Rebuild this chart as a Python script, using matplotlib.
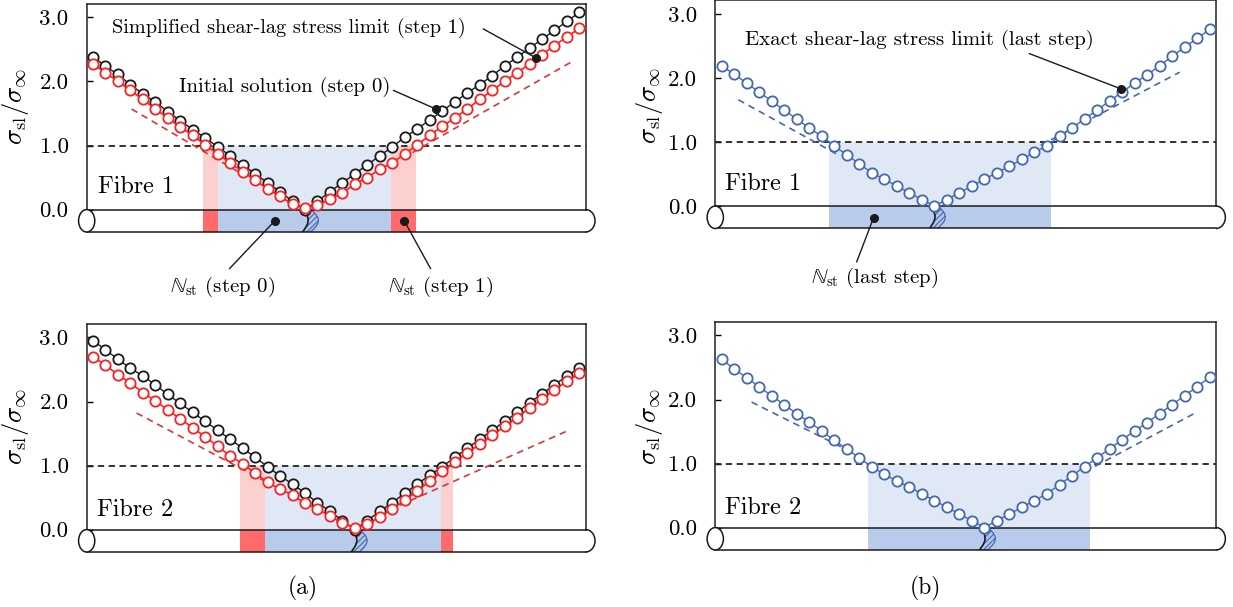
import matplotlib.pyplot as plt
import numpy as np
from matplotlib.patches import Rectangle, Ellipse, Arc, Polygon

plt.rcParams['font.family'] = 'cmr10'
plt.rcParams['mathtext.fontset'] = 'cm'
plt.rcParams['axes.formatter.use_mathtext'] = True
plt.rcParams['hatch.linewidth'] = 0.8

# point positions along the fibre
x = np.arange(40)
ytick_vals = [0, 1, 2, 3]
ytick_labels = ['0.0', '1.0', '2.0', '3.0']

# (a) fibre 1
f1_step0 = [2.39, 2.24, 2.11, 1.95, 1.81, 1.68, 1.53, 1.39, 1.25, 1.12, 0.98, 0.84, 0.70, 0.56,
            0.42, 0.28, 0.13, 0.00, 0.13, 0.28, 0.42, 0.56, 0.70, 0.84, 0.98, 1.13, 1.26, 1.40,
            1.54, 1.68, 1.82, 1.95, 2.09, 2.24, 2.38, 2.52, 2.66, 2.80, 2.94, 3.08]
f1_step1 = [2.27, 2.14, 2.00, 1.86, 1.72, 1.57, 1.43, 1.29, 1.16, 1.01, 0.87, 0.73, 0.59, 0.46,
            0.32, 0.21, 0.08, 0.02, 0.07, 0.16, 0.26, 0.40, 0.50, 0.63, 0.73, 0.87, 1.01, 1.16,
            1.30, 1.43, 1.57, 1.72, 1.86, 2.00, 2.14, 2.27, 2.42, 2.56, 2.70, 2.83]
f1_simpl_left = ([3.1, 12.0], [1.57, 0.55])
f1_simpl_right = ([24.8, 38.4], [0.80, 2.31])

# (a) fibre 2
f2_step0 = [2.95, 2.81, 2.66, 2.52, 2.40, 2.26, 2.11, 1.97, 1.83, 1.69, 1.55, 1.41, 1.27, 1.13,
            0.98, 0.84, 0.71, 0.57, 0.42, 0.29, 0.14, 0.00, 0.14, 0.29, 0.42, 0.57, 0.71, 0.85,
            0.98, 1.13, 1.27, 1.41, 1.55, 1.69, 1.83, 1.98, 2.12, 2.26, 2.40, 2.53]
f2_step1 = [2.70, 2.57, 2.42, 2.29, 2.14, 2.01, 1.87, 1.73, 1.59, 1.45, 1.30, 1.15, 1.03, 0.88,
            0.74, 0.63, 0.54, 0.41, 0.32, 0.21, 0.11, 0.02, 0.08, 0.20, 0.32, 0.46, 0.60, 0.76,
            0.91, 1.06, 1.20, 1.33, 1.47, 1.61, 1.75, 1.90, 2.04, 2.18, 2.32, 2.44]
f2_simpl_left = ([3.5, 13.65], [1.82, 0.77])
f2_simpl_right = ([24.6, 37.9], [0.38, 1.53])

# (b) last step
f1_last = [2.19, 2.06, 1.92, 1.78, 1.64, 1.50, 1.36, 1.22, 1.09, 0.94, 0.80, 0.66, 0.52, 0.42,
           0.31, 0.21, 0.10, 0.00, 0.10, 0.21, 0.31, 0.42, 0.52, 0.62, 0.73, 0.84, 0.94, 1.09,
           1.22, 1.36, 1.50, 1.64, 1.78, 1.92, 2.05, 2.19, 2.34, 2.48, 2.62, 2.76]
f1_exact_left = ([1.34, 9.5], [1.66, 0.78])
f1_exact_right = ([25.5, 36.6], [0.95, 2.09])
f2_last = [2.63, 2.48, 2.34, 2.20, 2.06, 1.92, 1.78, 1.65, 1.51, 1.36, 1.23, 1.09, 0.95, 0.83,
           0.73, 0.63, 0.53, 0.42, 0.32, 0.21, 0.11, 0.00, 0.11, 0.21, 0.32, 0.42, 0.53, 0.67,
           0.81, 0.95, 1.09, 1.23, 1.37, 1.51, 1.64, 1.78, 1.92, 2.06, 2.20, 2.35]
f2_exact_left = ([2.4, 11.2], [1.96, 1.10])
f2_exact_right = ([29.0, 37.75], [0.87, 1.78])

# stress-transfer regions (start, end)
f1_blue_a = [(10.0, 23.9)]
f1_red_a = [(8.8, 10.0), (23.9, 25.9)]
f2_blue_a = [(13.8, 27.9)]
f2_red_a = [(11.8, 13.8), (27.9, 28.9)]
f1_blue_b = [(8.6, 26.3)]
f2_blue_b = [(11.7, 29.4)]
crack_pos = [16.9, 20.8, 16.7, 20.7]

BLACK = '#1a1a1a'
RED = '#ff1f1f'
RED_D = '#d03a3a'
BLUE = '#4468b0'
LBLUE, DBLUE = '#e0e8f5', '#b9cbea'
LRED, DRED = '#fdd0d0', '#ff6a6a'

XLIM = (-0.5, 39.5)
YLIM = (-0.35, 3.21)
CYL = -0.35


def setup(ax):
    ax.set_xlim(*XLIM)
    ax.set_ylim(*YLIM)
    ax.set_xticks([])
    ax.set_yticks(ytick_vals)
    ax.set_yticklabels(ytick_labels)
    ax.tick_params(axis='y', direction='in', length=4, width=1, pad=13, labelsize=16.5)
    ax.spines['bottom'].set_visible(False)
    for s in ['left', 'right']:
        ax.spines[s].set_bounds(0, YLIM[1])
    for s in ['left', 'right', 'top']:
        ax.spines[s].set_linewidth(1.1)
        ax.spines[s].set_color('#222222')
    ax.set_ylabel(r'$\sigma_{\mathrm{sl}}/\sigma_{\infty}$', fontsize=19)
    ax.axhline(1.0, color='#222222', lw=1.3, ls=(0, (3.5, 2.5)), zorder=4)


def fibre(ax, blues, reds, crack):
    ax.add_patch(Rectangle((XLIM[0], CYL), XLIM[1] - XLIM[0], -CYL, fc='white', ec='none',
                           zorder=1, clip_on=False))
    for a, b in blues:
        ax.add_patch(Rectangle((a, 0), b - a, 1, fc=LBLUE, ec='none', zorder=0.5))
        ax.add_patch(Rectangle((a, CYL), b - a, -CYL, fc=DBLUE, ec='none', zorder=1.5))
    for a, b in reds:
        ax.add_patch(Rectangle((a, 0), b - a, 1, fc=LRED, ec='none', zorder=0.5))
        ax.add_patch(Rectangle((a, CYL), b - a, -CYL, fc=DRED, ec='none', zorder=1.5))
    # crack
    t = np.linspace(0, 1, 30)
    yy = CYL * t
    left = crack + 0.4 * np.sin(np.pi * t) - 0.1 * t
    right = crack + 0.6 + 0.6 * np.sin(np.pi * t) - 0.05 * t
    pts = np.column_stack([np.r_[left, right[::-1]], np.r_[yy, yy[::-1]]])
    ax.add_patch(Polygon(pts, closed=True, fc='#b3c6e8', ec=BLUE, lw=0.9, hatch='//////',
                         zorder=2.5))
    ax.plot(left, yy, color=BLACK, lw=1.1, zorder=2.6)
    # outline
    ax.plot(XLIM, [0, 0], color=BLACK, lw=1.1, zorder=3, clip_on=False)
    ax.plot(XLIM, [CYL, CYL], color=BLACK, lw=1.1, zorder=3, clip_on=False)
    ax.add_patch(Ellipse((XLIM[0], CYL / 2), 1.3, -CYL, fc='white', ec=BLACK, lw=1.1,
                         zorder=3, clip_on=False))
    ax.add_patch(Arc((XLIM[1], CYL / 2), 1.5, -CYL, theta1=-90, theta2=90, ec=BLACK, lw=1.1,
                     zorder=3, clip_on=False))


def curve(ax, y, color, lw=1.0):
    ax.plot(x, y, '-o', color=color, lw=lw, ms=7.4, mfc='white', mec=color, mew=1.3, zorder=5)


def dashed(ax, seg, color):
    ax.plot(seg[0], seg[1], color=color, lw=1.2, ls=(0, (4, 3)), zorder=4.5)


def leader(ax, txt_xy, dot_xy):
    ax.plot([txt_xy[0], dot_xy[0]], [txt_xy[1], dot_xy[1]], color=BLACK, lw=1.0, zorder=6,
            clip_on=False)
    ax.plot(dot_xy[0], dot_xy[1], 'o', color=BLACK, ms=5.5, zorder=7, clip_on=False)


fig = plt.figure(figsize=(12.33, 6.07), dpi=100)
ax1 = fig.add_axes([0.0703, 0.6178, 0.4047, 0.3756])
ax2 = fig.add_axes([0.0703, 0.0906, 0.4047, 0.3756])
ax3 = fig.add_axes([0.5801, 0.6236, 0.4061, 0.3756])
ax4 = fig.add_axes([0.5801, 0.0939, 0.4061, 0.3756])

for ax in [ax1, ax2, ax3, ax4]:
    setup(ax)
for ax in [ax1, ax2]:
    ax.yaxis.set_label_coords(-0.112, 0.55)
for ax in [ax3, ax4]:
    ax.yaxis.set_label_coords(-0.10, 0.54)

# (a) fibre 1
fibre(ax1, f1_blue_a, f1_red_a, crack_pos[0])
dashed(ax1, f1_simpl_left, RED_D)
dashed(ax1, f1_simpl_right, RED_D)
curve(ax1, f1_step0, BLACK)
curve(ax1, f1_step1, RED, lw=1.2)
ax1.text(0.38, 0.35, 'Fibre 1', fontsize=17.5, va='center', zorder=8)
ax1.text(1.5, 2.84, 'Simplified shear-lag stress limit (step 1)', fontsize=14.6, va='center',
         zorder=8)
leader(ax1, (31.3, 2.82), (35.5, 2.37))
ax1.text(6.9, 1.92, 'Initial solution (step 0)', fontsize=15, va='center', zorder=8)
leader(ax1, (24.1, 1.86), (27.5, 1.57))
leader(ax1, (10.96, -0.92), (14.56, -0.18))
leader(ax1, (27.06, -0.92), (24.97, -0.18))
ax1.text(10.4, -1.21, r'$\mathbb{N}_{\mathrm{st}}$ (step 0)', fontsize=15, ha='center',
         va='center')
ax1.text(27.9, -1.21, r'$\mathbb{N}_{\mathrm{st}}$ (step 1)', fontsize=15, ha='center',
         va='center')

# (a) fibre 2
fibre(ax2, f2_blue_a, f2_red_a, crack_pos[1])
dashed(ax2, f2_simpl_left, RED_D)
dashed(ax2, f2_simpl_right, RED_D)
curve(ax2, f2_step0, BLACK)
curve(ax2, f2_step1, RED, lw=1.2)
ax2.text(0.32, 0.30, 'Fibre 2', fontsize=17.5, va='center', zorder=8)

# (b) fibre 1
fibre(ax3, f1_blue_b, [], crack_pos[2])
dashed(ax3, f1_exact_left, BLUE)
dashed(ax3, f1_exact_right, BLUE)
curve(ax3, f1_last, BLUE)
ax3.text(0.31, 0.35, 'Fibre 1', fontsize=17.5, va='center', zorder=8)
ax3.text(1.87, 2.59, 'Exact shear-lag stress limit (last step)', fontsize=15, va='center',
         zorder=8)
leader(ax3, (24.6, 2.38), (31.9, 1.83))
leader(ax3, (10.8, -0.87), (12.15, -0.18))
ax3.text(12.2, -1.13, r'$\mathbb{N}_{\mathrm{st}}$ (last step)', fontsize=15, ha='center',
         va='center')

# (b) fibre 2
fibre(ax4, f2_blue_b, [], crack_pos[3])
dashed(ax4, f2_exact_left, BLUE)
dashed(ax4, f2_exact_right, BLUE)
curve(ax4, f2_last, BLUE)
ax4.text(0.31, 0.30, 'Fibre 2', fontsize=17.5, va='center', zorder=8)

fig.text(303 / 1233, 1 - 588 / 607, '(a)', fontsize=17, ha='center', va='center')
fig.text(925 / 1233, 1 - 588 / 607, '(b)', fontsize=17, ha='center', va='center')

fig.savefig('out.png', dpi=100)
